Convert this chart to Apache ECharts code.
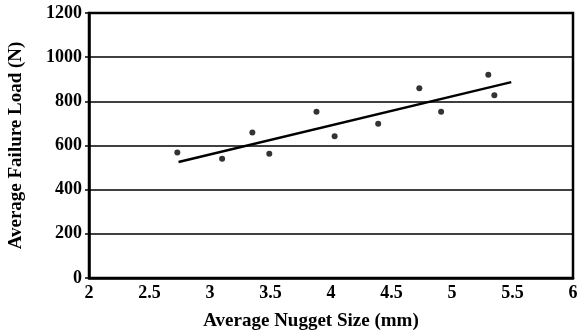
<!DOCTYPE html>
<html>
<head>
<meta charset="utf-8">
<script src="https://cdn.jsdelivr.net/npm/echarts@6/dist/echarts.min.js"></script>
<style>
  html, body { margin: 0; padding: 0; background: #fff; }
  #chart { width: 586px; height: 336px; }
</style>
</head>
<body>
<div id="chart"></div>
<script>
// nugget size (mm) vs failure load (N)
var nuggetSize = [2.73, 3.10, 3.35, 3.49, 3.88, 4.03, 4.39, 4.73, 4.91, 5.30, 5.35];
var failureLoad = [568, 540, 659, 563, 753, 642, 699, 859, 753, 920, 827];
// linear fit endpoints
var fitX = [2.74, 5.49];
var fitY = [525, 887];

var xTicks = ['2', '2.5', '3', '3.5', '4', '4.5', '5', '5.5', '6'];
var yTicks = ['0', '200', '400', '600', '800', '1000', '1200'];

var points = nuggetSize.map(function (x, i) { return [x, failureLoad[i]]; });
var fitLine = fitX.map(function (x, i) { return [x, fitY[i]]; });

var font = 'Liberation Serif';
var myChart = echarts.init(document.getElementById('chart'));
var option = {
    animation: false,
    grid: {
        left: 89, right: 13, top: 13, bottom: 58,
        outerBoundsMode: 'none',
        show: true, borderColor: '#000', borderWidth: 2.5
    },
    xAxis: {
        type: 'value',
        min: 2, max: 6, interval: 0.5,
        name: 'Average Nugget Size (mm)',
        nameLocation: 'middle',
        nameGap: 34,
        nameTextStyle: { fontFamily: font, fontWeight: 'bold', fontSize: 19, color: '#000', padding: [0, 40, 0, 0] },
        axisLine: { show: true, lineStyle: { color: '#000', width: 2.5 } },
        axisTick: { show: false },
        splitLine: { show: false },
        axisLabel: {
            margin: 6, color: '#000', fontFamily: font, fontWeight: 'bold', fontSize: 18,
            formatter: function (v) { return xTicks[Math.round((v - 2) / 0.5)]; }
        }
    },
    yAxis: {
        type: 'value',
        min: 0, max: 1200, interval: 200,
        name: 'Average Failure Load (N)',
        nameLocation: 'middle',
        nameGap: 63,
        nameTextStyle: { fontFamily: font, fontWeight: 'bold', fontSize: 19, color: '#000' },
        axisLine: { show: true, lineStyle: { color: '#000', width: 2.5 } },
        axisTick: { show: true, length: 4, lineStyle: { color: '#000', width: 1.5 } },
        splitLine: { show: true, lineStyle: { color: '#000', width: 1.5 } },
        axisLabel: {
            margin: 7, color: '#000', fontFamily: font, fontWeight: 'bold', fontSize: 18,
            formatter: function (v) { return yTicks[Math.round(v / 200)]; }
        }
    },
    series: [
        {
            type: 'scatter',
            data: points,
            symbol: 'circle',
            symbolSize: 6,
            itemStyle: { color: '#000' }
        },
        {
            type: 'line',
            data: fitLine,
            showSymbol: false,
            lineStyle: { color: '#000', width: 2.5 }
        }
    ]
};
myChart.setOption(option);
</script>
</body>
</html>
